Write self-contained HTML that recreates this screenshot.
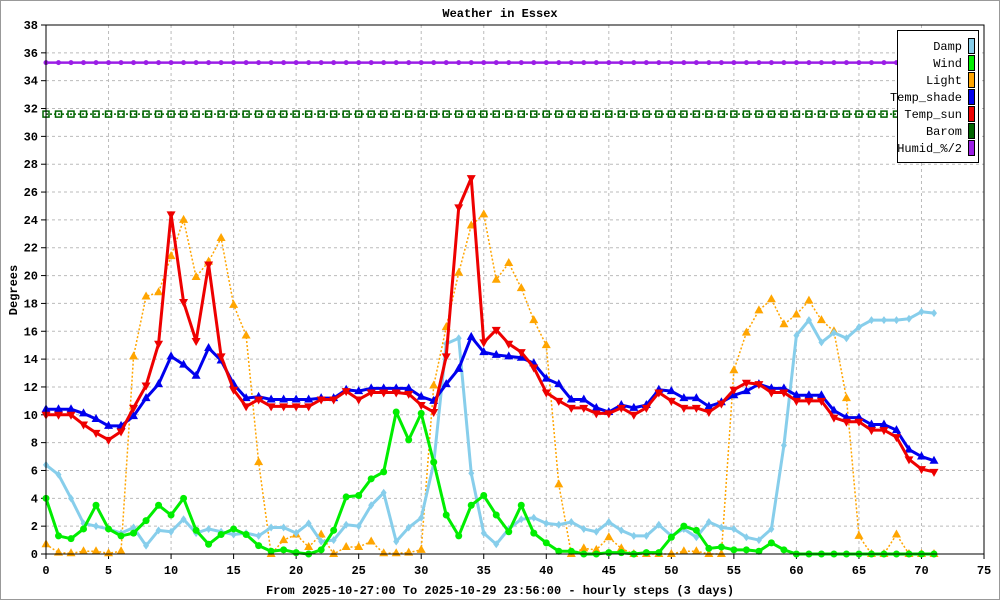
<!DOCTYPE html>
<html><head><style>
body{margin:0;background:#fff}
svg{display:block}
text{font-family:"Liberation Mono",monospace;font-weight:bold;font-size:12px}
text.lg{font-weight:normal;font-size:12px}
</style></head><body>
<svg id="s" width="1000" height="600" xmlns="http://www.w3.org/2000/svg">
<rect x="0.5" y="0.5" width="999" height="599" fill="#fff" stroke="#999"/>
<text x="500" y="17" text-anchor="middle" font-size="13">Weather in Essex</text>
<text x="500" y="594" text-anchor="middle" font-size="11">From 2025-10-27:00 To 2025-10-29 23:56:00 - hourly steps (3 days)</text>
<text transform="translate(17,290) rotate(-90)" text-anchor="middle" font-size="11">Degrees</text>
<g id="g"></g>
<g id="d"></g>
<rect x="46" y="25" width="938" height="529" fill="none" stroke="#000"/>
<g>
<rect x="897.5" y="30.5" width="81" height="132" fill="#fff" stroke="#000"/>
</g>
<g id="l"></g>
</svg>
<script>
const X=v=>46+v*12.507, Y=v=>554-v*13.921;
const ns="http://www.w3.org/2000/svg";
function el(p,t,a,txt){const e=document.createElementNS(ns,t);for(const k in a)e.setAttribute(k,a[k]);if(txt!==undefined)e.textContent=txt;document.getElementById(p).appendChild(e);return e;}
for(let v=0;v<=38;v+=2){const y=Y(v);if(v>0&&v<38)el("g","line",{x1:46,x2:984,y1:y,y2:y,stroke:"#bbb","stroke-dasharray":"3,3"});el("g","line",{x1:41,x2:46,y1:y,y2:y,stroke:"#000"});el("g","text",{x:38,y:y+4,"text-anchor":"end","font-size":"11"},v);}
for(let v=0;v<=75;v+=5){const x=X(v);if(v>0&&v<75)el("g","line",{x1:x,x2:x,y1:25,y2:554,stroke:"#bbb","stroke-dasharray":"3,3"});el("g","line",{x1:x,x2:x,y1:554,y2:559,stroke:"#000"});el("g","text",{x:x,y:574,"text-anchor":"middle","font-size":"11"},v);}
const light=[0.7,0.1,0.05,0.2,0.2,0.05,0.2,14.2,18.5,18.8,21.4,24.0,19.9,21.0,22.7,17.9,15.7,6.6,0,1.0,1.4,0.5,1.4,0,0.5,0.5,0.9,0.05,0.05,0.1,0.3,12.1,16.3,20.2,23.6,24.4,19.7,20.9,19.1,16.8,15.0,5.0,0,0.4,0.3,1.2,0.4,0,0,0,0,0.2,0.2,0,0,13.2,15.9,17.5,18.3,16.5,17.2,18.2,16.8,16.0,11.2,1.3,0,0,1.4,0,0,0];
const damp=[6.4,5.7,4.0,2.2,2.0,1.8,1.5,1.9,0.6,1.7,1.6,2.5,1.5,1.8,1.6,1.4,1.5,1.3,1.9,1.9,1.5,2.2,0.9,1.0,2.1,2.0,3.5,4.4,0.9,1.9,2.6,6.5,15.1,15.5,5.8,1.5,0.7,1.8,2.5,2.6,2.2,2.1,2.3,1.8,1.6,2.3,1.7,1.3,1.3,2.1,1.3,1.8,1.2,2.3,1.9,1.8,1.2,1.0,1.8,7.8,15.7,16.8,15.2,15.9,15.5,16.3,16.8,16.8,16.8,16.9,17.4,17.3];
const wind=[4.0,1.3,1.1,1.8,3.5,1.8,1.3,1.5,2.4,3.5,2.8,4.0,1.7,0.7,1.4,1.8,1.4,0.6,0.2,0.3,0.1,0,0.3,1.7,4.1,4.2,5.4,5.9,10.2,8.2,10.1,6.6,2.8,1.3,3.5,4.2,2.8,1.6,3.5,1.5,0.8,0.2,0.2,0,0,0.1,0.1,0,0.1,0.1,1.2,2.0,1.7,0.4,0.5,0.3,0.3,0.2,0.8,0.3,0,0,0,0,0,0,0,0,0,0,0,0];
const shade=[10.4,10.4,10.4,10.1,9.7,9.2,9.2,9.9,11.2,12.2,14.2,13.6,12.8,14.8,13.9,12.2,11.2,11.3,11.1,11.1,11.1,11.1,11.2,11.2,11.8,11.7,11.9,11.9,11.9,11.9,11.3,11.0,12.2,13.3,15.6,14.5,14.3,14.2,14.1,13.7,12.6,12.2,11.1,11.1,10.5,10.2,10.7,10.5,10.7,11.8,11.7,11.2,11.2,10.6,10.9,11.4,11.7,12.2,11.9,11.9,11.4,11.4,11.4,10.3,9.8,9.8,9.3,9.3,8.9,7.5,7.0,6.7];
const sun=[10,10,10,9.3,8.7,8.2,8.8,10.5,12.1,15.1,24.4,18.1,15.3,20.8,14.2,11.8,10.6,11.1,10.6,10.6,10.6,10.6,11.1,11.1,11.7,11.1,11.6,11.6,11.6,11.5,10.7,10.2,14.2,24.9,27.0,15.2,16.1,15.1,14.5,13.4,11.6,11.0,10.5,10.5,10.1,10.1,10.5,10.0,10.5,11.6,11.0,10.5,10.5,10.2,10.8,11.8,12.3,12.2,11.6,11.6,11.0,11.0,11.0,9.8,9.5,9.5,8.9,8.9,8.4,6.8,6.1,5.9];
const barom=Array(72).fill(31.6), hum=Array(72).fill(35.3);
function series(d,col,w,dash,mk){
 el("d","polyline",{points:d.map((v,i)=>X(i)+","+Y(v)).join(" "),fill:"none",stroke:col,"stroke-width":w,"stroke-dasharray":dash||"none","stroke-linejoin":"round"});
 d.forEach((v,i)=>{const x=X(i),y=Y(v);
  if(mk=="c")el("d","circle",{cx:x,cy:y,r:3.5,fill:col});
  else if(mk=="sc")el("d","circle",{cx:x,cy:y,r:2.5,fill:col});
  else if(mk=="up")el("d","polygon",{points:`${x},${y-5} ${x-4.5},${y+3} ${x+4.5},${y+3}`,fill:col});
  else if(mk=="dn")el("d","polygon",{points:`${x},${y+5} ${x-4.5},${y-3} ${x+4.5},${y-3}`,fill:col});
  else if(mk=="sq")el("d","rect",{x:x-3,y:y-3,width:6,height:6,fill:"none",stroke:col,"stroke-width":1.5});
  else if(mk=="dm")el("d","polygon",{points:`${x},${y-4} ${x-3},${y} ${x},${y+4} ${x+3},${y}`,fill:col});
 });}
series(hum,"#9b1ee6",2.5,null,"sc");
series(barom,"#006400",1.5,"2,2","sq");
series(light,"#ffa500",1.5,"2,2","up");
series(damp,"#87ceeb",3,null,"dm");
series(wind,"#00ee00",3,null,"c");
series(shade,"#0000ee",3,null,"up");
series(sun,"#ee0000",3,null,"dn");
const leg=[["Damp","#87ceeb"],["Wind","#00ee00"],["Light","#ffa500"],["Temp_shade","#0000ee"],["Temp_sun","#ee0000"],["Barom","#006400"],["Humid_%/2","#9b1ee6"]];
leg.forEach((a,i)=>{const y=46+i*17;el("l","text",{x:962,y:y+4,"text-anchor":"end","class":"lg"},a[0]);el("l","rect",{x:968.5,y:y-7.5,width:6,height:15,fill:a[1],stroke:"#000"});});
</script>
</body></html>
